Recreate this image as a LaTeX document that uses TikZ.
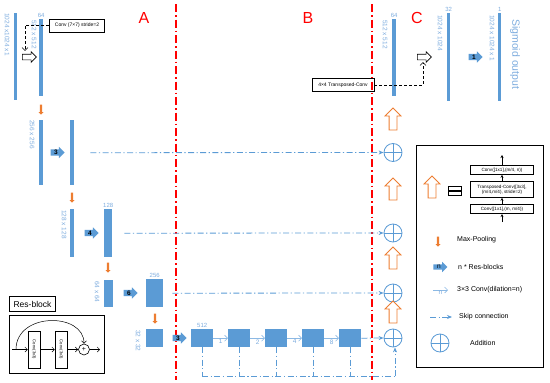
\documentclass[tikz,border=0pt]{standalone}
\usepackage{fontspec}
\setmainfont{Liberation Sans}
\usetikzlibrary{arrows.meta, positioning, shapes.arrows, calc}
\definecolor{fm}{RGB}{91,155,213}
\definecolor{fml}{RGB}{125,172,222}
\definecolor{dil}{RGB}{140,185,228}
\definecolor{pool}{RGB}{237,125,49}
\tikzset{
  fmap/.style  ={rectangle, fill=fm, draw=none, inner sep=0pt, anchor=north west},
  dimlbl/.style={font=\fontsize{6.5}{7}\selectfont, text=fml, rotate=-90, anchor=west, inner sep=0pt},
  num/.style   ={font=\fontsize{6}{7}\selectfont, text=fml, inner sep=1pt},
  rb/.style    ={single arrow, fill=fm, draw=none, minimum height=14pt, single arrow head extend=2.5pt, inner sep=0.6pt, font=\fontsize{6.5}{7}\selectfont\bfseries},
  mp/.style    ={single arrow, fill=pool, draw=none, shape border rotate=270, minimum height=10pt, single arrow head extend=1.3pt, inner sep=1pt},
  upc/.style   ={single arrow, draw=pool, fill=white, line width=0.8pt, shape border rotate=90, minimum height=22pt, single arrow head extend=4pt, inner sep=3.5pt},
  hol/.style   ={single arrow, draw, fill=white, line width=0.6pt, minimum height=14pt, single arrow head extend=2.5pt, inner sep=2.5pt},
  addc/.style  ={circle, draw=fm, line width=0.8pt, minimum size=18pt, inner sep=0pt,
                 path picture={\draw[fm, line width=0.8pt] (path picture bounding box.north)--(path picture bounding box.south) (path picture bounding box.west)--(path picture bounding box.east);}},
  skl/.style   ={draw=fm, line width=0.8pt, dash pattern=on 6pt off 2.5pt on 1.2pt off 2.5pt},
  skp/.style   ={skl, -{Stealth[length=5pt, width=4pt]}},
  dl/.style    ={draw=dil, line width=0.6pt, -{Straight Barb[length=3pt]}},
  dlt/.style   ={font=\fontsize{6.5}{7}\selectfont, text=fml, inner sep=1pt},
  redsep/.style={draw=red, line width=1.1pt, dash pattern=on 8pt off 3pt on 1.5pt off 3pt},
  zone/.style  ={text=red, font=\fontsize{16}{18}\selectfont, inner sep=0pt},
  cbox/.style  ={rectangle, draw, line width=0.5pt, align=center, inner sep=1pt, font=\fontsize{5}{5.5}\selectfont},
  kbox/.style  ={rectangle, draw, line width=0.6pt, align=center, inner sep=0.5pt, minimum width=63pt, font=\fontsize{4.6}{5.2}\selectfont},
  dconn/.style ={draw, densely dashed, line width=0.5pt, -{Straight Barb[length=3pt]}},
  karr/.style  ={line width=0.6pt, -{Stealth[length=3pt, width=3pt]}},
  rarr/.style  ={line width=0.5pt, -{Straight Barb[length=2.5pt]}},
  legtxt/.style={font=\fontsize{7}{8}\selectfont, anchor=west, inner sep=0pt},
}

\begin{document}
\begin{tikzpicture}[x=1pt, y=-1pt]
  \useasboundingbox (0,0) rectangle (550,383);
  % zone borders
  \draw[redsep] (176,4) -- (176,380);
  \draw[redsep] (372,4) -- (372,380);
  \node[zone] (za) at (144,18) {A};
  \node[zone] (zb) at (308,18) {B};
  \node[zone] (zc) at (417,18) {C};

  % encoder
  \node[fmap, minimum width=3pt, minimum height=87pt] (in) at (14,13) {};
  \node[dimlbl] (din) at (7,13) {1024 x1024 x1};
  \node[fmap, minimum width=4pt, minimum height=77pt, label={[num]above:64}] (e1) at (39,19) {};
  \node[dimlbl] (de1) at (34,20) {512 x 512};
  \node[cbox, minimum width=55pt, minimum height=13pt] (cv) at (77,25.5) {Conv (7×7) stride=2};
  \node[hol] (h1) at (28,57) {};
  \draw[dconn, shorten >=3pt] (cv.west) -| ([xshift=-3pt]h1.north);
  \node[mp] (m1) at (41,109) {};

  \node[fmap, minimum width=4pt, minimum height=65pt] (e2) at (39,120) {};
  \node[dimlbl] (de2) at (32,120) {256 x 256};
  \node[rb] (n3a) at (56,152.5) {3};
  \node[fmap, minimum width=4pt, minimum height=65pt] (e2r) at (70,120) {};
  \node[mp] (m2) at (72,197) {};

  \node[fmap, minimum width=4pt, minimum height=48pt] (e3) at (70,209) {};
  \node[dimlbl] (de3) at (64,210) {128 x 128};
  \node[rb] (n4) at (90,233) {4};
  \node[fmap, minimum width=8pt, minimum height=48pt, label={[num]above:128}] (e3r) at (104,209) {};
  \node[mp] (m3) at (108,267) {};

  \node[fmap, minimum width=9pt, minimum height=27pt] (e4) at (104,280) {};
  \node[dimlbl] (de4) at (97,281) {64 x 64};
  \node[rb] (n6) at (129,293) {6};
  \node[fmap, minimum width=17pt, minimum height=28pt, label={[num]above:256}] (e4r) at (146,279) {};
  \node[mp] (m4) at (155,318) {};

  \node[fmap, minimum width=17pt, minimum height=18pt] (e5) at (146,329) {};
  \node[dimlbl] (de5) at (138,330) {32 x 32};
  \node[rb] (n3b) at (178,338) {3};

  % dilated chain
  \foreach \i/\x in {1/191,2/228,3/265,4/302,5/339}
    \node[fmap, minimum width=22pt, minimum height=18pt] (r\i) at (\x,329) {};
  \node[num, above=0pt of r1] (l512) {512};
  \foreach \a/\b/\d in {1/2/1,2/3/2,3/4/4,4/5/8}
    \draw[dl] (r\a) -- (r\b) node[midway, below, dlt] {\d};

  % decoder
  \node[fmap, minimum width=4pt, minimum height=77pt, label={[num]above:64}] (d1) at (392,19) {};
  \node[dimlbl] (dd1) at (385,20) {512 x 512};
  \node[cbox, minimum width=62pt, minimum height=13pt] (tc) at (343,85) {4×4 Transposed-Conv};
  \node[hol] (h2) at (423,57) {};
  \draw[dconn, shorten >=2pt] (tc.east) -| (h2.south);
  \node[fmap, minimum width=3pt, minimum height=88pt, label={[num]above:32}] (d2) at (447,13) {};
  \node[dimlbl] (dd2) at (440,15) {1024 x 1024};
  \node[rb] (n1) at (474,57) {1};
  \node[fmap, minimum width=3pt, minimum height=88pt, label={[num]above:1}] (d3) at (498,13) {};
  \node[dimlbl] (dd3) at (492,15) {1024 x 1024 x 1};
  \node[dimlbl, font=\fontsize{10.5}{12}\selectfont] (sig) at (515,19) {Sigmoid output};

  \node[addc] (s1) at (393,152.5) {};
  \node[addc] (s2) at (393,233) {};
  \node[addc] (s3) at (393,293) {};
  \node[addc] (s4) at (393,338) {};
  \node[upc] (u0) at (393,121) {};
  \node[upc] (u1) at (393,191) {};
  \node[upc] (u2) at (393,260) {};
  \node[upc] (u3) at (393,314) {};

  % skip connections
  \draw[skp, shorten <=16pt] (e2r.east) -- (s1.west);
  \draw[skp, shorten <=12pt] (e3r.east) -- (s2.west);
  \draw[skp, shorten <=9pt] (e4r.east) -- (s3.west);
  \draw[skp] (r5.east) -- (s4.west);
  \coordinate (sb) at (395,376);
  \foreach \i in {1,...,5}
    \draw[skl] (r\i.south) -- (r\i.south |- sb);
  \draw[skl] (r1.south |- sb) -- (sb);
  \draw[skp] (sb) -- (sb |- s4.south);

  % res-block
  \node[draw, line width=1pt, minimum width=95pt, minimum height=58pt, anchor=north west, inner sep=0pt] (rbf) at (9,315) {};
  \node[draw, line width=1pt, minimum width=46pt, minimum height=15pt, anchor=south west, inner sep=1pt, font=\fontsize{8.5}{9}\selectfont] (rbt) at (9,312) {Res-block};
  \coordinate (rin) at (12,349.5);
  \coordinate (rout) at (100,349.5);
  \node[cbox, rotate=-90, minimum width=37pt, minimum height=12pt, font=\fontsize{4.2}{5}\selectfont] (rc1) at (34,349.5) {Conv(3x3)};
  \node[cbox, rotate=-90, minimum width=37pt, minimum height=12pt, font=\fontsize{4.2}{5}\selectfont] (rc2) at (61,349.5) {Conv(3x3)};
  \node[circle, draw, line width=0.6pt, minimum size=11pt, inner sep=0pt, font=\fontsize{7}{8}\selectfont] (rsum) at (84,349.5) {+};
  \draw[rarr] (rin) -- (rc1);
  \draw[rarr] (rc1) -- (rc2);
  \draw[rarr] (rc2) -- (rsum);
  \draw[rarr] (rsum) -- (rout);
  \draw[rarr] ($(rin)+(4,0)$) .. controls (16,312) and (84,312) .. (rsum.north);

  % legend
  \node[draw, line width=0.8pt, minimum width=127pt, minimum height=222pt, anchor=north west, inner sep=0pt] (lgd) at (416,145) {};
  \node[upc] (lup) at (432,189) {};
  \node[draw, line width=0.6pt, minimum width=13pt, minimum height=4pt, inner sep=0pt] (eq1) at (455,188.5) {};
  \node[draw, line width=0.6pt, minimum width=13pt, minimum height=4pt, inner sep=0pt] (eq2) at (455,193.5) {};
  \node[kbox, minimum height=9pt] (k3) at (502,170) {Conv([1x1],(m/4, n))};
  \node[kbox, minimum height=16pt] (k2) at (502,189.5) {Transposed-Conv([3x3],\\(m/4,m/4), stride=2)};
  \node[kbox, minimum height=9.5pt] (k1) at (502,209) {Conv([1x1],(m, m/4))};
  \coordinate (kin) at (502,222);
  \coordinate (kout) at (502,155);
  \draw[karr] (kin) -- (k1);
  \draw[karr] (k1) -- (k2);
  \draw[karr] (k2) -- (k3);
  \draw[karr] (k3) -- (kout);

  \node[mp] (lmp) at (438,241) {};
  \node[legtxt] (tmp) at (457,240) {Max-Pooling};
  \node[rb, font=\fontsize{6.5}{7}\selectfont] (lrb) at (439,267) {n};
  \node[legtxt] (trb) at (458,267) {n * Res-blocks};
  \coordinate (ld0) at (433,290);
  \coordinate (ld1) at (448,290);
  \draw[dl] (ld0) -- (ld1) node[midway, below, dlt] {n};
  \node[legtxt] (tdl) at (457,290) {3×3 Conv(dilation=n)};
  \coordinate (ls0) at (430,317);
  \coordinate (ls1) at (452,317);
  \draw[skp] (ls0) -- (ls1);
  \node[legtxt] (tsk) at (459,317) {Skip connection};
  \node[addc] (lad) at (440,343) {};
  \node[legtxt] (tad) at (470,343) {Addition};
\end{tikzpicture}
\end{document}
